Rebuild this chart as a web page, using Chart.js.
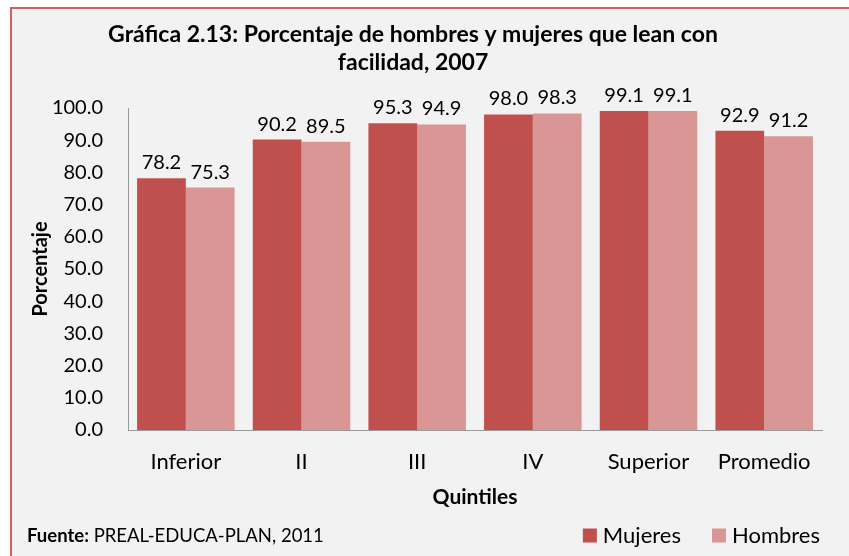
<!DOCTYPE html>
<html><head><meta charset="utf-8">
<script src="https://cdn.jsdelivr.net/npm/chart.js@4.4.1/dist/chart.umd.min.js"></script>
<style>
html,body{margin:0;padding:0;background:#fff;overflow:hidden;}
#frame{position:absolute;left:10px;top:7px;width:860px;height:570px;background:#f2f2f2;border-left:2px solid #cf605d;border-top:2px solid #cf605d;}
#c{position:absolute;left:0;top:0;}
</style></head><body>
<div id="frame"></div>
<canvas id="c" width="849" height="556"></canvas>
<script>
const categories = ['Inferior', 'II', 'III', 'IV', 'Superior', 'Promedio'];
const mujeres = [78.2, 90.2, 95.3, 98.0, 99.1, 92.9];
const hombres = [75.3, 89.5, 94.9, 98.3, 99.1, 91.2];
const seriesNames = ['Mujeres', 'Hombres'];
const seriesColors = ['#c0504d', '#d99694'];
const titleLines = ['Gráfica 2.13: Porcentaje de hombres y mujeres que lean con', 'facilidad, 2007'];
const yAxisTitle = 'Porcentaje';
const xAxisTitle = 'Quintiles';
const sourceLabel = 'Fuente:';
const sourceText = ' PREAL-EDUCA-PLAN, 2011';
const yMin = 0, yMax = 100, yStep = 10;

const FONT = 'Lato';

const valueLabels = {
  id: 'valueLabels',
  afterDatasetsDraw(chart) {
    const ctx = chart.ctx;
    ctx.save();
    ctx.font = '20px ' + FONT;
    ctx.fillStyle = '#000';
    ctx.textAlign = 'center';
    ctx.textBaseline = 'alphabetic';
    chart.data.datasets.forEach((ds, i) => {
      chart.getDatasetMeta(i).data.forEach((bar, j) => {
        ctx.fillText(ds.data[j].toFixed(1), bar.x, bar.y - 9);
      });
    });
    ctx.restore();
  }
};

const footer = {
  id: 'footer',
  afterDraw(chart) {
    const ctx = chart.ctx;
    ctx.save();
    ctx.fillStyle = '#000';
    ctx.textBaseline = 'alphabetic';
    ctx.textAlign = 'left';
    const base = 542;
    ctx.font = 'bold 18.5px ' + FONT;
    ctx.fillText(sourceLabel, 27, base);
    const w = ctx.measureText(sourceLabel).width;
    ctx.font = '18.5px ' + FONT;
    ctx.fillText(sourceText, 27 + w, base);
    // legend, right aligned
    ctx.font = '22px ' + FONT;
    const box = 14, gapText = 6, gapItem = 31;
    let right = 820;
    const items = chart.data.datasets.map(d => ({label: d.label, color: d.backgroundColor}));
    const pos = [];
    for (let i = items.length - 1; i >= 0; i--) {
      const tw = ctx.measureText(items[i].label).width;
      const tx = right - tw;
      const bx = tx - gapText - box;
      pos[i] = {tx, bx};
      right = bx - gapItem;
    }
    items.forEach((it, i) => {
      ctx.fillStyle = it.color;
      ctx.fillRect(pos[i].bx, 528.5, box, box);
      ctx.fillStyle = '#000';
      ctx.fillText(it.label, pos[i].tx, base + 0.5);
    });
    ctx.restore();
  }
};

new Chart(document.getElementById('c'), {
  type: 'bar',
  data: {
    labels: categories,
    datasets: [
      {label: seriesNames[0], data: mujeres, backgroundColor: seriesColors[0], borderWidth: 0},
      {label: seriesNames[1], data: hombres, backgroundColor: seriesColors[1], borderWidth: 0}
    ]
  },
  options: {
    responsive: false,
    animation: false,
    devicePixelRatio: 1,
    layout: {padding: {left: 4, right: 27, top: 0, bottom: 43}},
    datasets: {bar: {categoryPercentage: 0.843, barPercentage: 1.0}},
    plugins: {
      legend: {display: false},
      tooltip: {enabled: false},
      title: {
        display: true,
        text: titleLines,
        color: '#000',
        font: {family: FONT, size: 23, weight: 'bold', lineHeight: 28 / 23},
        padding: {top: 21, bottom: 31}
      }
    },
    scales: {
      x: {
        grid: {display: false, drawTicks: false},
        border: {display: true, color: '#999', width: 1},
        ticks: {color: '#000', font: {family: FONT, size: 22}, padding: 19},
        title: {display: true, text: xAxisTitle, color: '#000', font: {family: FONT, size: 21, weight: 'bold'}, padding: {top: 0, bottom: 3}},
        afterFit(scale) { scale.height = 83; }
      },
      y: {
        min: yMin, max: yMax,
        grid: {display: false, drawTicks: false},
        border: {display: true, color: '#999', width: 1},
        ticks: {stepSize: yStep, color: '#000', font: {family: FONT, size: 20}, padding: 25,
          callback: v => Number(v).toFixed(1)},
        title: {display: true, text: yAxisTitle, color: '#000', font: {family: FONT, size: 20, weight: 'bold'}, padding: {top: 25, bottom: 0}},
        afterFit(scale) { scale.width = 124; }
      }
    }
  },
  plugins: [valueLabels, footer]
});
</script>
</body></html>
